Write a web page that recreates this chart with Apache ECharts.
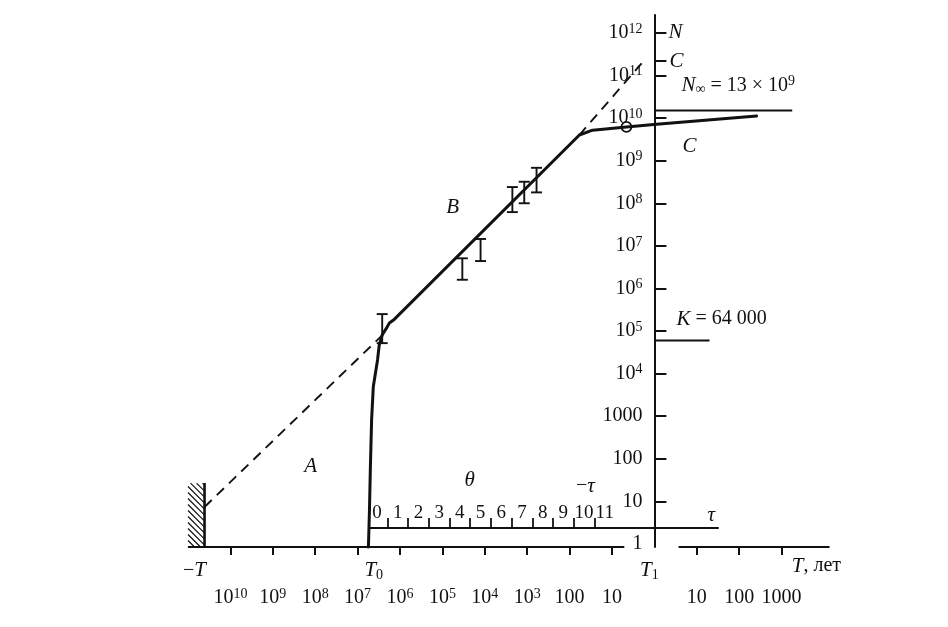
<!DOCTYPE html>
<html><head><meta charset="utf-8">
<script src="https://cdn.jsdelivr.net/npm/echarts@6/dist/echarts.min.js"></script>
<style>html,body{margin:0;padding:0;background:#fff}#c{width:948px;height:627px}</style>
</head><body><div id="c"></div>
<script>
// ---------- data (time in signed decades from T1, population N) ----------
const curveT = [-6.745, -6.72, -6.70, -6.67, -6.63, -6.53, -6.49, -6.42, -6.32, -6.25, -6.13, -1.77, -1.46, -0.66, 0.05, 2.41];
const curveN = [0.85, 6.3, 55, 810, 4900, 2.1e4, 4.7e4, 8.1e4, 1.17e5, 1.55e5, 1.9e5, 4.0e9, 5.2e9, 6.2e9, 7.2e9, 1.12e10];
const upperDashT = [-1.77, -0.28];
const upperDashN = [4.0e9, 2.05e11];
const lowerDashT = [-10.61, -6.37];
const lowerDashN = [7.4, 8.9e4];
const errT = [-6.42, -4.53, -4.10, -3.35, -3.07, -2.78];
const errLow = [5.2e4, 1.6e6, 4.4e6, 6.2e7, 1.0e8, 1.8e8];
const errHigh = [2.5e5, 5.1e6, 1.45e7, 2.4e8, 3.2e8, 6.8e8];
const markerT = [-0.66];
const markerN = [6.2e9];
const nInfT = [0, 3.25];
const nInfN = 1.5e10;
const kT = [0, 1.3];
const kN = 6.0e4;
const cTickN = 2.2e11;
const hatchT = [-11.0, -10.61];
const hatchN = [0.85, 27];
const tAxisLeft = [-11.0, -0.71];
const tAxisRight = [0.57, 4.13];
const yTickPowers = [1, 2, 3, 4, 5, 6, 7, 8, 9, 10, 11, 12];
const yLabelPowers = [0, 1, 2, 3, 4, 5, 6, 7, 8, 9, 10, 11, 12];
const tTickDecades = [-10, -9, -8, -7, -6, -5, -4, -3, -2, -1, 1, 2, 3];
const thetaLabels = [0, 1, 2, 3, 4, 5, 6, 7, 8, 9, 10, 11];
const thetaTicks = [0.5, 1.5, 2.5, 3.5, 4.5, 5.5, 6.5, 7.5, 8.5, 9.5, 10.5];

// ---------- text annotations ----------
const annotations = [
  {t: -10.85, n: 10 ** -0.63, text: '{n|−}{i|T}'},
  {t: -6.62, n: 10 ** -0.63, text: '{i|T}{sub|0}'},
  {t: -0.12, n: 10 ** -0.63, text: '{i|T}{sub|1}'},
  {t: 3.82, n: 10 ** -0.52, text: '{i|T}{n|, лет}'},
  {t: 0.5, n: 10 ** 12.02, text: '{i|N}'},
  {t: 0.52, n: 10 ** 11.34, text: '{i|C}'},
  {t: 0.64, n: 10 ** 10.77, text: '{i|N}{sub|∞}{n| = 13 × 10}{s|9}', left: true},
  {t: 0.83, n: 10 ** 9.34, text: '{i|C}'},
  {t: -4.76, n: 10 ** 7.91, text: '{i|B}'},
  {t: -8.11, n: 10 ** 1.83, text: '{i|A}'},
  {t: 0.52, n: 10 ** 5.28, text: '{i|K}{n| = 64 000}', left: true},
  {t: -4.36, n: 10 ** 1.5, text: '{i|θ}'},
  {t: -1.63, n: 10 ** 1.36, text: '{n|−}{i|τ}'},
  {t: 1.34, n: 10 ** 0.66, text: '{i|τ}'}
];

const FONT = '"Liberation Serif", "DejaVu Serif", serif';
const INK = '#111111';
const L = Math.log10;
const rich = {
  n: {fontFamily: FONT, fontSize: 20, lineHeight: 22, color: INK},
  s: {fontFamily: FONT, fontSize: 14, lineHeight: 10, verticalAlign: 'top', color: INK},
  i: {fontFamily: FONT, fontSize: 21, lineHeight: 22, fontStyle: 'italic', color: INK},
  sub: {fontFamily: FONT, fontSize: 14, lineHeight: 12, verticalAlign: 'bottom', color: INK}
};

function powLabel(p) {
  if (p === 0) return '{n|1}';
  if (p === 1) return '{n|10}';
  if (p === 2) return '{n|100}';
  if (p === 3) return '{n|1000}';
  return '{n|10}{s|' + p + '}';
}
function tLabel(v) {
  const d = Math.abs(v);
  if (v > 0) return '{n|' + Math.pow(10, d) + '}';
  if (d === 1) return '{n|10}';
  if (d === 2) return '{n|100}';
  return '{n|10}{s|' + d + '}';
}

const X_MIN = -11, X_MAX = 4.2, GRID_LEFT = 188, GRID_W = 644.5;
const Y_AXIS_SHIFT = -(0 - X_MIN) / (X_MAX - X_MIN) * GRID_W;

const chart = echarts.init(document.getElementById('c'));
chart.setOption({
  backgroundColor: '#fff',
  animation: false,
  grid: [
    {left: GRID_LEFT, top: 15, width: GRID_W, height: 532},
    {left: 370, top: 517, width: 348, height: 11}
  ],
  xAxis: [
    {
      gridIndex: 0, type: 'value', min: X_MIN, max: X_MAX, position: 'bottom',
      axisLine: {show: false, onZero: false},
      splitLine: {show: false},
      axisTick: {customValues: tTickDecades, length: 8, lineStyle: {color: INK, width: 2}},
      axisLabel: {customValues: tTickDecades, margin: 40, formatter: tLabel, rich: rich}
    },
    {
      gridIndex: 1, type: 'value', min: -0.34, max: 16.47, position: 'bottom',
      axisLine: {show: true, onZero: false, lineStyle: {color: INK, width: 2}},
      splitLine: {show: false},
      axisTick: {customValues: thetaTicks, inside: true, length: 10, lineStyle: {color: INK, width: 1.8}},
      axisLabel: {customValues: thetaLabels, inside: true, margin: 5,
        fontFamily: FONT, fontSize: 19, color: INK}
    }
  ],
  yAxis: [
    {
      gridIndex: 0, type: 'value', min: -0.07, max: 12.42, position: 'left', offset: Y_AXIS_SHIFT,
      axisLine: {show: true, onZero: false, lineStyle: {color: INK, width: 2}},
      splitLine: {show: false},
      axisTick: {customValues: yTickPowers.concat([L(cTickN)]), inside: true, length: 12,
        lineStyle: {color: INK, width: 2}},
      axisLabel: {customValues: yLabelPowers, margin: 12, formatter: powLabel, rich: rich}
    },
    {gridIndex: 1, type: 'value', min: 0, max: 1, show: false}
  ],
  series: [
    {
      name: 'T axis', type: 'line', xAxisIndex: 0, yAxisIndex: 0, silent: true, clip: false,
      showSymbol: false, lineStyle: {color: INK, width: 2},
      data: [[tAxisLeft[0], -0.07], [tAxisLeft[1], -0.07], null, [tAxisRight[0], -0.07], [tAxisRight[1], -0.07]],
      connectNulls: false
    },
    {
      name: 'hatch', type: 'custom', xAxisIndex: 0, yAxisIndex: 0, silent: true, clip: false,
      data: [[hatchT[0], hatchT[1], L(hatchN[0]), L(hatchN[1])]],
      renderItem: function (params, api) {
        const a = api.coord([api.value(0), api.value(3)]);
        const b = api.coord([api.value(1), api.value(2)]);
        const xL = a[0], xR = b[0], yT = a[1], yB = b[1];
        const kids = [];
        const step = 6;
        for (let c = yT - xR + 2; c <= yB - xL; c += step) {
          const x1 = Math.max(xL, yT - c), x2 = Math.min(xR, yB - c);
          if (x2 > x1) kids.push({type: 'line', shape: {x1: x1, y1: x1 + c, x2: x2, y2: x2 + c},
            style: {stroke: INK, lineWidth: 1.2}});
        }
        kids.push({type: 'line', shape: {x1: xR, y1: yT, x2: xR, y2: yB}, style: {stroke: INK, lineWidth: 2.6}});
        return {type: 'group', children: kids};
      }
    },
    {
      name: 'lower dashed', type: 'line', xAxisIndex: 0, yAxisIndex: 0, showSymbol: false, clip: false,
      lineStyle: {color: INK, width: 1.9, type: [10, 7]},
      data: lowerDashT.map((t, i) => [t, L(lowerDashN[i])])
    },
    {
      name: 'upper dashed', type: 'line', xAxisIndex: 0, yAxisIndex: 0, showSymbol: false, clip: false,
      lineStyle: {color: INK, width: 1.9, type: [10, 7]},
      data: upperDashT.map((t, i) => [t, L(upperDashN[i])])
    },
    {
      name: 'N inf', type: 'line', xAxisIndex: 0, yAxisIndex: 0, showSymbol: false, clip: false,
      lineStyle: {color: INK, width: 2},
      data: nInfT.map(t => [t, L(nInfN)])
    },
    {
      name: 'K', type: 'line', xAxisIndex: 0, yAxisIndex: 0, showSymbol: false, clip: false,
      lineStyle: {color: INK, width: 2},
      data: kT.map(t => [t, L(kN)])
    },
    {
      name: 'population', type: 'line', xAxisIndex: 0, yAxisIndex: 0, showSymbol: false, clip: false,
      lineStyle: {color: INK, width: 3, join: 'round', cap: 'round'},
      data: curveT.map((t, i) => [t, L(curveN[i])])
    },
    {
      name: 'error bars', type: 'custom', xAxisIndex: 0, yAxisIndex: 0, clip: false,
      data: errT.map((t, i) => [t, L(errLow[i]), L(errHigh[i])]),
      encode: {x: 0, y: [1, 2]},
      renderItem: function (params, api) {
        const p1 = api.coord([api.value(0), api.value(1)]);
        const p2 = api.coord([api.value(0), api.value(2)]);
        const w = 5.5, st = {stroke: INK, lineWidth: 1.9};
        return {type: 'group', children: [
          {type: 'line', shape: {x1: p1[0], y1: p1[1], x2: p2[0], y2: p2[1]}, style: st},
          {type: 'line', shape: {x1: p1[0] - w, y1: p1[1], x2: p1[0] + w, y2: p1[1]}, style: st},
          {type: 'line', shape: {x1: p2[0] - w, y1: p2[1], x2: p2[0] + w, y2: p2[1]}, style: st}
        ]};
      }
    },
    {
      name: 'marker', type: 'scatter', xAxisIndex: 0, yAxisIndex: 0, clip: false,
      symbol: 'circle', symbolSize: 10,
      itemStyle: {color: '#fff', borderColor: INK, borderWidth: 1.8, opacity: 1},
      data: markerT.map((t, i) => [t, L(markerN[i])])
    },
    {
      name: 'annotations', type: 'scatter', xAxisIndex: 0, yAxisIndex: 0, clip: false, silent: true,
      symbolSize: 0, itemStyle: {color: INK, opacity: 1},
      data: annotations.map(a => ({
        value: [a.t, L(a.n)],
        label: {show: true, formatter: a.text, rich: rich, color: INK, opacity: 1,
          textBorderWidth: 0, position: a.left ? 'right' : 'inside', distance: 0,
          align: a.left ? 'left' : 'center', verticalAlign: 'middle'}
      }))
    },
    {
      name: 'theta', type: 'line', xAxisIndex: 1, yAxisIndex: 1, data: [], showSymbol: false
    }
  ]
});
</script></body></html>
